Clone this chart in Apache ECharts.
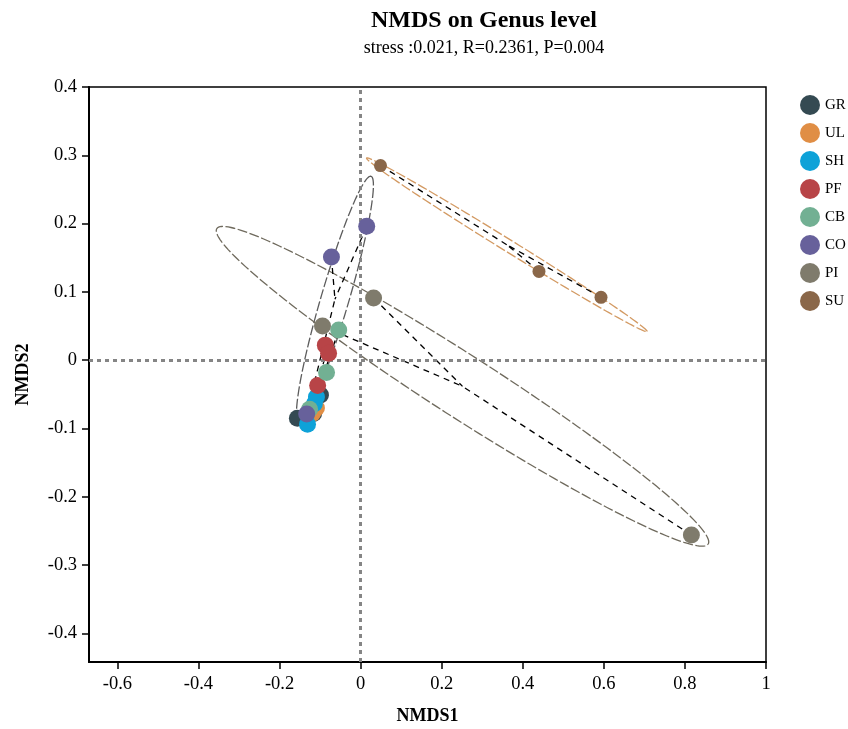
<!DOCTYPE html>
<html>
<head>
<meta charset="utf-8">
<script src="https://cdn.jsdelivr.net/npm/echarts@6/dist/echarts.min.js"></script>
<style>
  html, body { margin: 0; padding: 0; background: #fff; }
  #chart { width: 848px; height: 729px; }
</style>
</head>
<body>
<div id="chart"></div>
<script>
// NMDS ordination scores (NMDS1, NMDS2) per sample, grouped by site
const groups = ['GR', 'UL', 'SH', 'PF', 'CB', 'CO', 'PI', 'SU'];
const GR = [[-0.156, -0.085], [-0.099, -0.051], [-0.116, -0.078]];
const UL = [[-0.119, -0.078], [-0.109, -0.070], [-0.114, -0.073]];
const SH = [[-0.109, -0.054], [-0.114, -0.064], [-0.131, -0.094]];
const PF = [[-0.087, 0.022], [-0.079, 0.010], [-0.106, -0.037]];
const CB = [[-0.054, 0.044], [-0.084, -0.018], [-0.126, -0.072]];
const CO = [[0.015, 0.196], [-0.072, 0.151], [-0.133, -0.079]];
const PI = [[0.032, 0.091], [-0.094, 0.050], [0.816, -0.256]];
const SU = [[0.049, 0.285], [0.440, 0.130], [0.593, 0.092]];
const groupPoints = [GR, UL, SH, PF, CB, CO, PI, SU];

// Confidence ellipses: group name, half-axis vectors (data units)
const ellipseGroups = ['CO', 'PI', 'SU'];
const ellipseAxisA = [[0.089, 0.180], [0.606, -0.231], [0.346, -0.127]];
const ellipseAxisB = [[0.033, -0.0058], [0.0416, 0.0382], [0.0078, 0.0075]];

const subtitle = 'stress :0.021, R=0.2361, P=0.004';

const colors = ['#344a52', '#e08e45', '#0ea2d8', '#b84447', '#72b093', '#67619b', '#7f7b6c', '#8a6749'];
const ellipseColors = { CO: '#5c5c5c', PI: '#6f6a5d', SU: '#d39a63' };
const FONT = '"Liberation Serif", "DejaVu Serif", serif';

function centroid(pts) {
  let sx = 0, sy = 0;
  pts.forEach(p => { sx += p[0]; sy += p[1]; });
  return [sx / pts.length, sy / pts.length];
}
const centroids = groupPoints.map(centroid);

// spider segments: each sample to its group centroid
const spiderData = [];
groupPoints.forEach((pts, gi) => {
  pts.forEach(p => spiderData.push([p[0], p[1], centroids[gi][0], centroids[gi][1]]));
});

const ellipseData = ellipseGroups.map((g, i) => {
  const c = centroids[groups.indexOf(g)];
  return [c[0], c[1], ellipseAxisA[i][0], ellipseAxisA[i][1], ellipseAxisB[i][0], ellipseAxisB[i][1], i];
});

const chart = echarts.init(document.getElementById('chart'), null, { renderer: 'canvas' });

const tickFmt = v => {
  const r = Math.round(v * 10) / 10;
  if (Math.abs(v - r) > 1e-6) return '';
  return r === 0 ? '0' : String(r);
};

const scatterSeries = groups.map((g, i) => ({
  name: g,
  type: 'scatter',
  data: groupPoints[i],
  symbol: 'circle',
  symbolSize: g === 'SU' ? 13 : 17,
  itemStyle: { color: colors[i], opacity: 1 },
  z: 10 + i,
  silent: true
}));

const option = {
  animation: false,
  backgroundColor: '#fff',
  title: {
    text: 'NMDS on Genus level',
    subtext: subtitle,
    left: 479,
    textAlign: 'center',
    top: 4,
    itemGap: 6,
    textStyle: { fontFamily: FONT, fontSize: 24, fontWeight: 'bold', color: '#000' },
    subtextStyle: { fontFamily: FONT, fontSize: 18, color: '#000' }
  },
  legend: {
    data: groups,
    orient: 'vertical',
    left: 800,
    top: 95,
    padding: 0,
    itemWidth: 20,
    itemHeight: 20,
    itemGap: 8,
    icon: 'circle',
    textStyle: { fontFamily: FONT, fontSize: 15, color: '#000' }
  },
  grid: {
    left: 89, right: 82, top: 87, bottom: 67,
    outerBoundsMode: 'none',
    show: true, borderColor: '#000', borderWidth: 1.5, backgroundColor: 'transparent',
    containLabel: false
  },
  xAxis: {
    type: 'value',
    min: -0.67, max: 1.0,
    splitNumber: 8,
    name: 'NMDS1',
    nameLocation: 'middle',
    nameGap: 45,
    nameTextStyle: { fontFamily: FONT, fontSize: 18, fontWeight: 'bold', color: '#000' },
    axisLine: { show: true, onZero: false, lineStyle: { color: '#000', width: 2 } },
    axisTick: { show: true, length: 7, lineStyle: { color: '#000', width: 1.5 } },
    axisLabel: { fontFamily: FONT, fontSize: 18.5, color: '#000', margin: 13, showMinLabel: false, formatter: tickFmt },
    splitLine: { show: false }
  },
  yAxis: {
    type: 'value',
    min: -0.442, max: 0.4,
    splitNumber: 8,
    name: 'NMDS2',
    nameLocation: 'middle',
    nameGap: 57,
    nameRotate: 90,
    nameTextStyle: { fontFamily: FONT, fontSize: 18, fontWeight: 'bold', color: '#000' },
    axisLine: { show: true, onZero: false, lineStyle: { color: '#000', width: 2 } },
    axisTick: { show: true, length: 7, lineStyle: { color: '#000', width: 1.5 } },
    axisLabel: { fontFamily: FONT, fontSize: 18.5, color: '#000', margin: 12, showMinLabel: false, formatter: tickFmt },
    splitLine: { show: false }
  },
  series: [
    {
      // zero reference lines
      type: 'scatter',
      data: [],
      silent: true,
      z: 1,
      markLine: {
        silent: true,
        symbol: 'none',
        label: { show: false },
        animation: false,
        lineStyle: { color: '#858585', width: 3, type: [4, 4] },
        data: [{ xAxis: 0 }, { yAxis: 0 }]
      }
    },
    {
      // group confidence ellipses
      type: 'custom',
      coordinateSystem: 'cartesian2d',
      silent: true,
      z: 3,
      data: ellipseData,
      encode: { x: 0, y: 1 },
      renderItem: function (params, api) {
        const cx = api.value(0), cy = api.value(1);
        const ax = api.value(2), ay = api.value(3);
        const bx = api.value(4), by = api.value(5);
        const g = ellipseGroups[api.value(6)];
        const pts = [];
        const n = 180;
        for (let k = 0; k <= n; k++) {
          const t = (k / n) * Math.PI * 2;
          const c = Math.cos(t), s = Math.sin(t);
          pts.push(api.coord([cx + c * ax + s * bx, cy + c * ay + s * by]));
        }
        return {
          type: 'polyline',
          shape: { points: pts },
          style: { stroke: ellipseColors[g], lineWidth: 1.3, fill: null, lineDash: [10, 2.5] }
        };
      }
    },
    {
      // spider lines to group centroids
      type: 'custom',
      coordinateSystem: 'cartesian2d',
      silent: true,
      z: 4,
      data: spiderData,
      encode: { x: [0, 2], y: [1, 3] },
      renderItem: function (params, api) {
        const p = api.coord([api.value(0), api.value(1)]);
        const c = api.coord([api.value(2), api.value(3)]);
        return {
          type: 'line',
          shape: { x1: p[0], y1: p[1], x2: c[0], y2: c[1] },
          style: { stroke: '#000', lineWidth: 1.3, lineDash: [6, 5] }
        };
      }
    }
  ].concat(scatterSeries)
};

chart.setOption(option);
</script>
</body>
</html>
